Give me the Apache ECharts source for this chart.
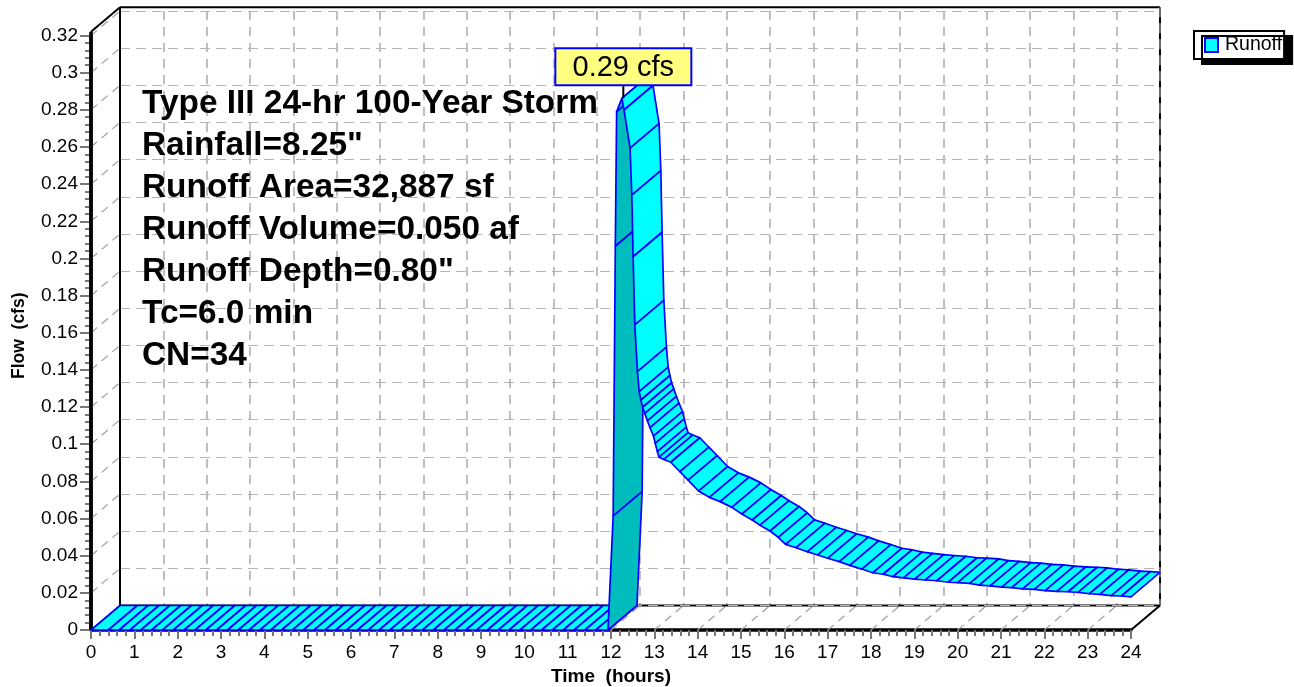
<!DOCTYPE html>
<html><head><meta charset="utf-8">
<style>html,body{margin:0;padding:0;background:#fff}#c{width:1294px;height:687px}</style>
<script src="https://cdn.jsdelivr.net/npm/echarts@6/dist/echarts.min.js"></script>
</head><body><div id="c"></div>
<script>
var xTickLabels=['0','1','2','3','4','5','6','7','8','9','10','11','12','13','14','15','16','17','18','19','20','21','22','23','24'];
var yTickLabels=['0','0.02','0.04','0.06','0.08','0.1','0.12','0.14','0.16','0.18','0.2','0.22','0.24','0.26','0.28','0.3','0.32'];
var hours=[0,0.4,0.65,0.9,1.15,1.4,1.65,1.9,2.15,2.4,2.65,2.9,3.15,3.4,3.65,3.9,4.15,4.4,4.65,4.9,5.15,5.4,5.65,5.9,6.15,6.4,6.65,6.9,7.15,7.4,7.65,7.9,8.15,8.4,8.65,8.9,9.15,9.4,9.65,9.9,10.15,10.4,10.65,10.9,11.15,11.4,11.65,11.93,
12.05,12.10,12.13,12.25,12.30,12.44,12.48,12.51,12.55,12.61,12.65,12.69,12.73,12.78,12.84,12.90,12.98,13.02,13.07,13.11,13.22,13.38,13.59,13.78,14.02,14.27,14.52,14.79,15.02,15.26,15.44,15.67,15.86,16.03,16.27,16.53,16.77,17.00,17.27,17.51,17.79,18.04,18.28,18.51,18.75,19.01,19.25,19.52,19.78,20.00,20.28,20.50,20.75,21.02,21.25,21.50,21.77,22.02,22.29,22.55,22.78,23.04,23.28,23.55,23.78,24.00];
var flow=[0,0,0,0,0,0,0,0,0,0,0,0,0,0,0,0,0,0,0,0,0,0,0,0,0,0,0,0,0,0,0,0,0,0,0,0,0,0,0,0,0,0,0,0,0,0,0,0,
0.0614,0.2067,0.279,0.2862,0.2799,0.2594,0.2341,0.2009,0.1642,0.1391,0.1283,0.1238,0.1199,0.1166,0.1126,0.1089,0.1044,0.1005,0.096,0.093,0.0918,0.0903,0.0852,0.0807,0.0748,0.0714,0.0691,0.066,0.0624,0.0592,0.0564,0.0533,0.0499,0.0461,0.0443,0.0421,0.0404,0.0386,0.0368,0.0348,0.0328,0.0308,0.03,0.0287,0.0281,0.0274,0.0269,0.0265,0.0257,0.0255,0.0251,0.0242,0.0238,0.0231,0.0228,0.0221,0.0219,0.0212,0.0208,0.0206,0.0203,0.0195,0.0192,0.0185,0.0183,0.0178];
var peakHour=12.25, peakFlow=0.2862, peakLabel='0.29 cfs';
var infoLines=['Type III 24-hr 100-Year Storm','Rainfall=8.25"','Runoff Area=32,887 sf','Runoff Volume=0.050 af','Runoff Depth=0.80"','Tc=6.0 min','CN=34'];

var FONT='"Liberation Sans",Arial,sans-serif';
var DX=29, DY=-24.5, XMAX=24, YMAX=0.32, BOXTOP=0.322;
var CYAN='#00ffff', TEAL='#00bdbd', BLUE='#0000ff', GRID='#b4b4b4';

function seg(a,b,w,c,dash){
  return {type:'line',shape:{x1:a[0],y1:a[1],x2:b[0],y2:b[1]},style:{stroke:c,lineWidth:w,lineDash:dash||null},silent:true};
}
function back(p){return [p[0]+DX,p[1]+DY];}

function renderFrame(params,api){
  var kids=[];
  var i;
  for(i=0;i<yTickLabels.length;i++){
    var py=api.coord([0,parseFloat(yTickLabels[i])]);
    kids.push(seg(py,back(py),1.2,'#a0a0a0',[8,6]));
  }
  for(i=0;i<xTickLabels.length;i++){
    var px=api.coord([parseFloat(xTickLabels[i]),0]);
    kids.push(seg(px,back(px),1.2,'#a0a0a0',[8,6]));
  }
  var o=api.coord([0,0]), t=api.coord([0,BOXTOP]), r=api.coord([XMAX,0]), tr=api.coord([XMAX,BOXTOP]);
  kids.push(seg(back(o),back(t),2,'#000'));
  kids.push(seg(back(t),back(tr),2,'#000'));
  kids.push(seg(back(tr),back(r),2,'#000'));
  kids.push(seg(back(o),back(r),2,'#000'));
  kids.push(seg(back(o),back(r),1.2,'#b4b4b4',[10,6]));
  kids.push(seg(back(tr),back(r),1.2,'#b4b4b4',[10,6]));
  kids.push(seg(t,back(t),2,'#000'));
  kids.push(seg(r,back(r),2,'#000'));
  kids.push(seg(o,t,3.5,'#000'));
  return {type:'group',children:kids};
}

function renderRibbon(params,api){
  var i=params.dataIndex;
  if(i>=hours.length-1) return null;
  var a=api.coord([hours[i],flow[i]]), b=api.coord([hours[i+1],flow[i+1]]);
  var rising=flow[i+1]>flow[i];
  return {type:'polygon',
    shape:{points:[a,b,back(b),back(a)]},
    style:{fill:rising?TEAL:CYAN,stroke:BLUE,lineWidth:1.7,lineJoin:'round'},silent:true};
}

function renderPeak(params,api){
  var p=api.coord([peakHour,peakFlow]);
  var cx=p[0]+1.5, top=p[1]-50, h=37, w=136;
  return {type:'group',children:[
    seg([cx,top+h],[cx,p[1]],2,'#000'),
    {type:'rect',shape:{x:cx-w/2,y:top,width:w,height:h},style:{fill:'#ffff80',stroke:BLUE,lineWidth:2},silent:true},
    {type:'text',style:{x:cx,y:top+h/2+1,text:peakLabel,align:'center',verticalAlign:'middle',fill:'#000',font:'29px '+FONT},silent:true}
  ]};
}

var axisTextX={color:'#000',fontFamily:FONT,fontSize:19,margin:13,formatter:function(v,i){return xTickLabels[i];}};
var axisTextY={color:'#000',fontFamily:FONT,fontSize:19,margin:13,padding:[4,0,0,0],formatter:function(v,i){return yTickLabels[i];}};
var tickX={show:true,inside:false,length:9,lineStyle:{color:'#777',width:2}};
var tickY={show:true,inside:false,length:11,lineStyle:{color:'#777',width:2}};
var minor={show:true,splitNumber:5,length:6,lineStyle:{color:'#777',width:2}};

var chart=echarts.init(document.getElementById('c'),null,{renderer:'canvas'});
chart.setOption({
  animation:false,
  backgroundColor:'#fff',
  grid:[
    {left:91,top:35.5,width:1040,height:594.5,containLabel:false,outerBoundsMode:'none'},
    {left:120,top:11,width:1040,height:594.5,containLabel:false,outerBoundsMode:'none'}
  ],
  legend:{
    left:1194,top:31,orient:'horizontal',padding:[4,2,4,10],
    backgroundColor:'#fff',borderColor:'#000',borderWidth:2,borderRadius:0,
    shadowColor:'#000',shadowBlur:0,shadowOffsetX:8,shadowOffsetY:5,
    itemWidth:13,itemHeight:14,itemGap:0,
    textStyle:{color:'#000',fontFamily:FONT,fontSize:19.5,padding:[6,0,0,2]},
    data:[{name:'Runoff',icon:'rect',itemStyle:{color:CYAN,borderColor:BLUE,borderWidth:2}}]
  },
  xAxis:[
    {gridIndex:0,type:'value',min:0,max:XMAX,interval:1,position:'bottom',
     name:'Time  (hours)',nameLocation:'middle',nameGap:34,
     nameTextStyle:{color:'#000',fontFamily:FONT,fontWeight:'bold',fontSize:19},
     axisLine:{show:true,onZero:false,lineStyle:{color:'#000',width:3.5}},axisTick:tickX,minorTick:minor,
     axisLabel:axisTextX,splitLine:{show:false},minorSplitLine:{show:false}},
    {gridIndex:1,type:'value',min:0,max:XMAX,interval:1,
     axisLine:{show:false},axisTick:{show:false},axisLabel:{show:false},
     splitLine:{show:true,lineStyle:{color:GRID,width:1.7,type:[9,7]}}}
  ],
  yAxis:[
    {gridIndex:0,type:'value',min:0,max:YMAX,interval:0.02,position:'left',
     name:'Flow  (cfs)',nameLocation:'middle',nameGap:63,nameRotate:90,
     nameTextStyle:{color:'#000',fontFamily:FONT,fontWeight:'bold',fontSize:17.5,padding:[0,6,0,0]},
     axisLine:{show:true,onZero:false,lineStyle:{color:'#000',width:3.5}},axisTick:tickY,minorTick:minor,
     axisLabel:axisTextY,splitLine:{show:false},minorSplitLine:{show:false}},
    {gridIndex:1,type:'value',min:0,max:YMAX,interval:0.02,
     axisLine:{show:false},axisTick:{show:false},axisLabel:{show:false},
     splitLine:{show:true,lineStyle:{color:GRID,width:1.2,type:[10,6]}}}
  ],
  graphic:infoLines.map(function(s,i){
    return {type:'text',left:142,top:87+42*i,z:3,silent:true,
      style:{text:s,fill:'#000',font:'bold 33.4px '+FONT}};
  }),
  series:[
    {type:'custom',name:'frame',xAxisIndex:0,yAxisIndex:0,clip:false,z:2,silent:true,
     renderItem:renderFrame,data:[[0,0]],encode:{x:0,y:1}},
    {type:'custom',name:'Runoff',xAxisIndex:0,yAxisIndex:0,clip:false,z:4,silent:true,
     itemStyle:{color:CYAN},
     renderItem:renderRibbon,data:hours.map(function(h,i){return [h,flow[i]];}),encode:{x:0,y:1}},
    {type:'custom',name:'peak',xAxisIndex:0,yAxisIndex:0,clip:false,z:5,silent:true,
     renderItem:renderPeak,data:[[peakHour,peakFlow]],encode:{x:0,y:1}}
  ]
});
</script></body></html>
